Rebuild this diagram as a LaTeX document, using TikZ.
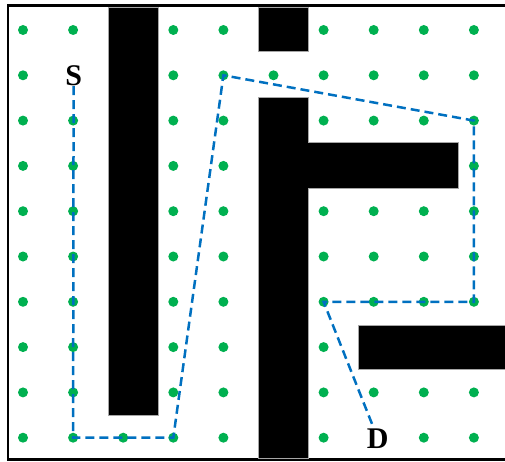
\documentclass[tikz,border=0pt]{standalone}
\usepackage{fontspec}
\setmainfont{Liberation Serif}
\usepackage{xcolor}
\definecolor{dotgreen}{RGB}{0,176,80}
\definecolor{routeblue}{RGB}{0,112,192}

\begin{document}
\begin{tikzpicture}[x=1pt,y=-1pt,
  wall/.style={fill=black,draw=gray!70,line width=0.8pt},
  route/.style={routeblue,line width=2.5pt,dash pattern=on 9pt off 5pt},
  endlabel/.style={font=\fontsize{30}{30}\selectfont\bfseries,fill=white,inner sep=0.5pt}]
\useasboundingbox (0,0) rectangle (505,462);
\foreach \i in {1,...,10}
  \foreach \j in {1,...,10}
    \coordinate (p\i-\j) at ({23+50.1*(\i-1)},{30+45.3*(\j-1)});
\foreach \i in {1,...,10}
  \foreach \j in {1,...,10}
    \fill[dotgreen] (p\i-\j) circle (5pt);
\draw[line width=2.5pt] (505,5.5) -- (8,5.5) -- (8,459.7) -- (505,459.7);
\draw[wall] (108,7) rectangle (158,415.7);
\draw[wall] (258.3,7) rectangle (308.3,51.7);
\draw[wall] (258.3,97.7) -- (308.3,97.7) -- (308.3,142.7) -- (458.3,142.7)
  -- (458.3,188.3) -- (308.3,188.3) -- (308.3,458.5) -- (258.3,458.5) -- cycle;
\draw[wall] (358.3,325) rectangle (506,369.3);
\node[endlabel] (S) at ([xshift=0.5pt]p2-2) {S};
\node[endlabel] (D) at ([xshift=4pt,yshift=-1pt]p8-10) {D};
\draw[route] (S.south) -- (p2-10) -- (p4-10) -- (p5-2) -- (p10-3)
  -- (p10-7) -- (p7-7) -- ([xshift=-4pt]D.north);
\end{tikzpicture}
\end{document}
